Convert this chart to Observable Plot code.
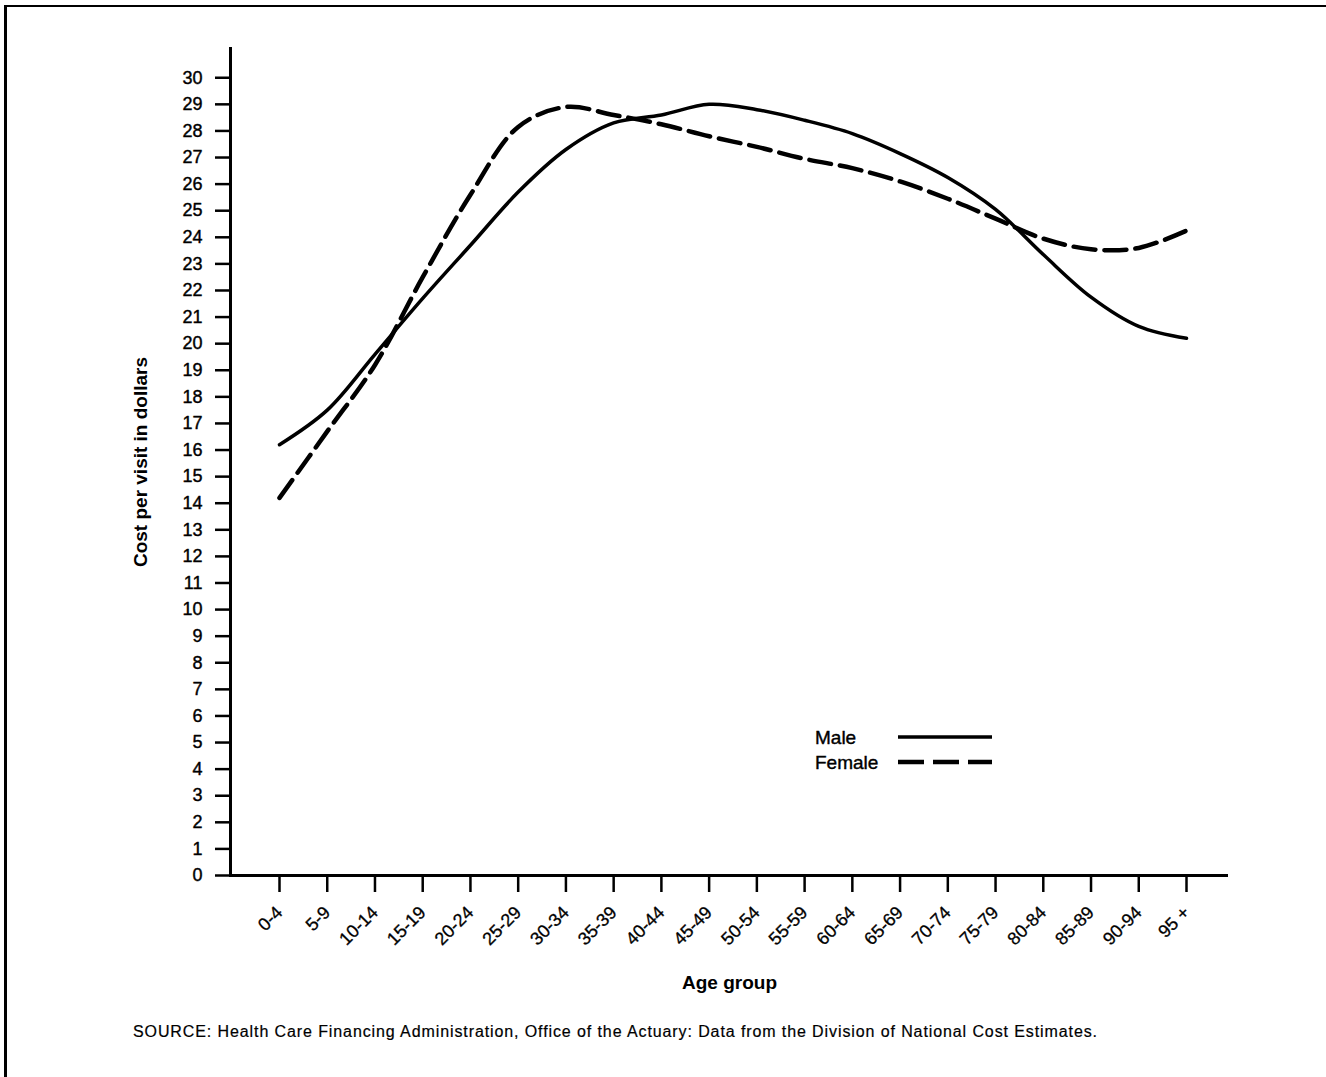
<!DOCTYPE html>
<html>
<head>
<meta charset="utf-8">
<script src="https://cdn.jsdelivr.net/npm/d3@7"></script>
<script src="https://cdn.jsdelivr.net/npm/@observablehq/plot@0.6"></script>
<style>
  html, body { margin: 0; padding: 0; background: #fff; }
  #wrap { position: relative; width: 1326px; height: 1077px; overflow: hidden; font-family: "Liberation Sans", Arial, Helvetica, sans-serif; color: #000; }
  #chart { position: absolute; left: 0; top: 0; }
  .bt { position: absolute; left: 4px; top: 5px; width: 1322px; height: 2px; background: #000; }
  .bl { position: absolute; left: 4px; top: 5px; width: 3px; height: 1072px; background: #000; }
  #source { position: absolute; left: 133px; top: 1024px; font-size: 16px; line-height: 1; white-space: nowrap; letter-spacing: 0.9px; -webkit-text-stroke: 0.2px #000; }
  #legend { position: absolute; left: 0; top: 0; }
</style>
</head>
<body>
<div id="wrap">
  <div class="bt"></div>
  <div class="bl"></div>
  <div id="chart"></div>
  <svg id="legend" width="1326" height="1077"></svg>
  <div id="source">SOURCE: Health Care Financing Administration, Office of the Actuary: Data from the Division of National Cost Estimates.</div>
</div>
<script>
const ages = ["0-4","5-9","10-14","15-19","20-24","25-29","30-34","35-39","40-44","45-49","50-54","55-59","60-64","65-69","70-74","75-79","80-84","85-89","90-94","95 +"];
const male = [16.2, 17.5, 19.6, 21.7, 23.7, 25.7, 27.3, 28.3, 28.6, 29.0, 28.8, 28.4, 27.9, 27.15, 26.25, 25.05, 23.35, 21.75, 20.65, 20.2];
const female = [14.2, 16.7, 19.2, 22.5, 25.6, 28.15, 28.9, 28.6, 28.25, 27.8, 27.4, 26.95, 26.6, 26.1, 25.45, 24.7, 23.95, 23.55, 23.6, 24.25];
const yTicks = d3.range(0, 31);
const seriesNames = ["Male", "Female"];

const rows = [];
ages.forEach((a, i) => {
  rows.push({age: a, sex: seriesNames[0], cost: male[i]});
  rows.push({age: a, sex: seriesNames[1], cost: female[i]});
});

const chart = Plot.plot({
  width: 1326,
  height: 1000,
  marginLeft: 230,
  marginRight: 98,
  marginTop: 48,
  marginBottom: 125,
  style: {fontFamily: "'Liberation Sans', Arial, Helvetica, sans-serif", color: "#000", background: "transparent"},
  x: {type: "point", domain: ages, range: [279, 1186], padding: 0, round: false},
  y: {domain: [0, 31.1]},
  marks: [
    Plot.axisY({ticks: yTicks, tickSize: 15, tickPadding: 13, fontSize: 18, strokeWidth: 2.5, label: null, textStroke: "#000", textStrokeWidth: 0.4}),
    Plot.axisX({tickSize: 17, tickPadding: 17, tickRotate: -45, fontSize: 18, strokeWidth: 2.5, label: null, textStroke: "#000", textStrokeWidth: 0.3}),
    Plot.frame({anchor: "left", strokeWidth: 3}),
    Plot.ruleY([0], {strokeWidth: 3}),
    Plot.text(["Cost per visit in dollars"], {frameAnchor: "left", rotate: -90, dx: -90, textAnchor: "middle", fontSize: 19, fontWeight: "bold"}),
    Plot.text(["Age group"], {frameAnchor: "bottom", dy: 107, lineAnchor: "middle", fontSize: 19, fontWeight: "bold"}),
    Plot.line(rows.filter(d => d.sex === "Male"), {x: "age", y: "cost", curve: "catmull-rom", stroke: "#000", strokeWidth: 3.5}),
    Plot.line(rows.filter(d => d.sex === "Female"), {x: "age", y: "cost", curve: "catmull-rom", stroke: "#000", strokeWidth: 4.5, strokeDasharray: "22,9"})
  ]
});
document.getElementById("chart").appendChild(chart);

// legend
const lg = d3.select("#legend");
const items = [
  {name: seriesNames[0], y: 737, dash: null, w: 3.5},
  {name: seriesNames[1], y: 762, dash: "26,9", w: 4.5}
];
items.forEach(it => {
  lg.append("text").attr("x", 815).attr("y", it.y + 7).attr("font-size", 19)
    .attr("font-family", "'Liberation Sans', Arial, Helvetica, sans-serif")
    .attr("stroke", "#000").attr("stroke-width", 0.4).text(it.name);
  lg.append("line").attr("x1", 898).attr("x2", 992).attr("y1", it.y).attr("y2", it.y)
    .attr("stroke", "#000").attr("stroke-width", it.w).attr("stroke-dasharray", it.dash);
});
</script>
</body>
</html>
